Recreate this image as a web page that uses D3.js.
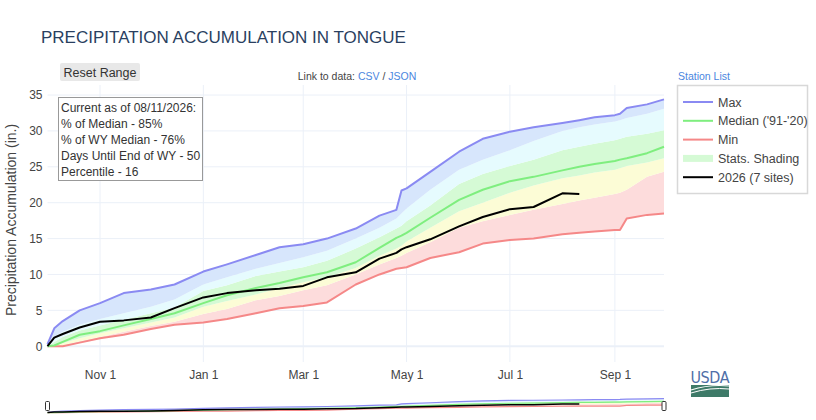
<!DOCTYPE html>
<html>
<head>
<meta charset="utf-8">
<script src="https://cdn.jsdelivr.net/npm/d3@7"></script>
<style>
  body { margin: 0; background: #fff; }
  svg { font-family: 'Liberation Sans', Arial, sans-serif; }
</style>
</head>
<body>
<script>
// Water year dates the values were read at
const dates = [
  '2025-10-01', '2025-10-05', '2025-10-10', '2025-10-20', '2025-11-01', '2025-11-15',
  '2025-12-01', '2025-12-15', '2026-01-01', '2026-01-15', '2026-02-01', '2026-02-15',
  '2026-03-01', '2026-03-15', '2026-04-01', '2026-04-15', '2026-04-25', '2026-04-28',
  '2026-05-01', '2026-05-15', '2026-06-01', '2026-06-15', '2026-07-01', '2026-07-15',
  '2026-08-01', '2026-08-11', '2026-08-20', '2026-09-01', '2026-09-04', '2026-09-08',
  '2026-09-20', '2026-09-30'
]

const maxValues = [0.3, 2.5, 3.5, 5.0, 6.0, 7.4, 7.9, 8.6, 10.4, 11.4, 12.7, 13.8, 14.2, 15.0, 16.4, 18.2,
  19.0, 21.7, 22.0, 24.3, 27.1, 28.9, 29.9, 30.5, 31.1, 31.5, 31.9, 32.2, 32.4, 33.2, 33.7, 34.4]
const p90Values = [0.1, 1.3, 2.0, 3.0, 3.8, 4.6, 5.5, 6.5, 8.6, 9.6, 10.8, 11.6, 12.4, 13.3, 15.0, 16.5,
  17.8, 18.5, 19.2, 21.8, 24.6, 26.0, 27.3, 28.6, 30.0, 30.5, 30.9, 31.3, 31.5, 31.8, 32.4, 33.1]
const p70Values = [0, 0.6, 1.3, 2.2, 2.9, 3.7, 4.6, 5.4, 7.7, 8.5, 9.8, 10.4, 11.0, 11.9, 13.6, 15.2,
  16.4, 16.8, 17.4, 19.6, 22.6, 24.0, 25.1, 26.0, 27.3, 27.8, 28.2, 28.7, 28.9, 29.2, 29.6, 30.1]
const medianValues = [0, 0.1, 0.6, 1.6, 2.1, 2.9, 3.8, 4.6, 6.0, 7.1, 8.1, 8.8, 9.6, 10.3, 11.7, 13.7,
  15.1, 15.4, 15.8, 17.9, 20.4, 21.8, 23.0, 23.6, 24.5, 25.0, 25.4, 25.8, 26.0, 26.2, 26.9, 27.8]
const p30Values = [0, 0.1, 0.4, 1.1, 1.8, 2.5, 3.3, 4.0, 5.5, 6.3, 7.2, 8.1, 8.9, 9.6, 10.9, 12.6,
  13.6, 14.0, 14.6, 16.5, 18.8, 20.0, 21.4, 22.4, 23.4, 23.8, 24.2, 24.6, 24.8, 25.1, 25.6, 26.2]
const p10Values = [0, 0, 0.1, 0.7, 1.3, 2.0, 2.8, 3.4, 4.5, 5.2, 6.4, 7.0, 7.8, 8.5, 10.0, 11.4,
  12.3, 12.6, 13.0, 14.5, 16.5, 17.4, 18.3, 19.0, 19.8, 20.3, 20.7, 21.2, 21.4, 21.8, 23.6, 24.3]
const minValues = [0, 0, 0, 0.5, 1.1, 1.6, 2.4, 3.0, 3.3, 3.8, 4.6, 5.3, 5.6, 6.1, 8.6, 10.0,
  10.8, 10.9, 11.0, 12.3, 13.1, 14.3, 14.8, 15.0, 15.6, 15.8, 16.0, 16.2, 16.2, 17.8, 18.3, 18.5]
// 2026 ends at Aug 11
const currentValues = [0, 1.2, 1.7, 2.6, 3.4, 3.6, 4.0, 5.3, 6.8, 7.4, 7.8, 8.0, 8.4, 9.6, 10.3, 12.2,
  13.0, 13.5, 13.8, 14.9, 16.7, 18.0, 19.1, 19.4, 21.3, 21.2, null, null, null, null, null, null]

const yTicks = [0, 5, 10, 15, 20, 25, 30, 35]
const xTickDates = ['2025-11-01', '2026-01-01', '2026-03-01', '2026-05-01', '2026-07-01', '2026-09-01']

const infoLines = [
  'Current as of 08/11/2026:',
  '% of Median - 85%',
  '% of WY Median - 76%',
  'Days Until End of WY - 50',
  'Percentile - 16'
]

const parse = d3.timeParse('%Y-%m-%d')
const rows = dates.map((d, i) => ({
  date: parse(d),
  max: maxValues[i], p90: p90Values[i], p70: p70Values[i], median: medianValues[i],
  p30: p30Values[i], p10: p10Values[i], min: minValues[i], current: currentValues[i]
}))

const width = 816
const height = 420

const colors = {
  max: '#8a8af2', median: '#7fee7f', min: '#f58888', current: '#000',
  bandBlue: '#d7e6fc', bandCyan: '#e6fbfe', bandGreen: '#d5fad5', bandYellow: '#fcfcd6', bandPink: '#fddcdc'
}

const bands = [
  { lo: 'min', hi: 'p10', fill: colors.bandPink },
  { lo: 'p10', hi: 'p30', fill: colors.bandYellow },
  { lo: 'p30', hi: 'p70', fill: colors.bandGreen },
  { lo: 'p70', hi: 'p90', fill: colors.bandCyan },
  { lo: 'p90', hi: 'max', fill: colors.bandBlue }
]

const svg = d3.select('body').append('svg')
  .attr('width', width)
  .attr('height', height)

const x = d3.scaleTime()
  .domain([parse('2025-10-01'), parse('2026-09-30')])
  .range([47.5, 664])

const y = d3.scaleLinear()
  .domain([-2.2, 36.4])
  .range([362, 85])

// Title
svg.append('text')
  .attr('x', 41).attr('y', 43)
  .attr('font-size', 17)
  .attr('fill', '#2a3f5f')
  .text('PRECIPITATION ACCUMULATION IN TONGUE')

// Reset Range button
svg.append('rect')
  .attr('x', 60).attr('y', 63).attr('width', 80).attr('height', 18)
  .attr('rx', 2)
  .attr('fill', '#e8e8e8')
svg.append('text')
  .attr('x', 100).attr('y', 76.5)
  .attr('text-anchor', 'middle')
  .attr('font-size', 12.5)
  .attr('fill', '#333')
  .text('Reset Range')

// Link to data
const link = svg.append('text')
  .attr('x', 357).attr('y', 80)
  .attr('text-anchor', 'middle')
  .attr('font-size', 10.5)
  .attr('fill', '#444')
link.append('tspan').text('Link to data: ')
link.append('tspan').attr('fill', '#4a86e0').text('CSV')
link.append('tspan').text(' / ')
link.append('tspan').attr('fill', '#4a86e0').text('JSON')

svg.append('text')
  .attr('x', 678).attr('y', 80)
  .attr('font-size', 10.5)
  .attr('fill', '#4a86e0')
  .text('Station List')

// Grid
const grid = svg.append('g')
grid.selectAll('.vgrid')
  .data(xTickDates.map(parse))
  .enter()
  .append('line')
  .attr('x1', (d) => x(d)).attr('x2', (d) => x(d))
  .attr('y1', 85).attr('y2', 362)
  .attr('stroke', '#ebf0f8')
  .attr('stroke-width', 1)
grid.selectAll('.hgrid')
  .data(yTicks)
  .enter()
  .append('line')
  .attr('x1', x.range()[0]).attr('x2', x.range()[1])
  .attr('y1', (d) => y(d)).attr('y2', (d) => y(d))
  .attr('stroke', '#ebf0f8')
  .attr('stroke-width', (d) => (d === 0 ? 2 : 1))

// Percentile shading
const plot = svg.append('g')
bands.forEach((b) => {
  plot.append('path')
    .datum(rows)
    .attr('fill', b.fill)
    .attr('d', d3.area()
      .x((d) => x(d.date))
      .y0((d) => y(d[b.lo]))
      .y1((d) => y(d[b.hi])))
})

const lineFor = (key, scaleY) => d3.line()
  .defined((d) => d[key] !== null)
  .x((d) => x(d.date))
  .y((d) => scaleY(d[key]))

const series = [
  { key: 'max', color: colors.max, w: 2 },
  { key: 'min', color: colors.min, w: 2 },
  { key: 'median', color: colors.median, w: 2 },
  { key: 'current', color: colors.current, w: 2 }
]

series.forEach((s) => {
  plot.append('path')
    .datum(rows)
    .attr('fill', 'none')
    .attr('stroke', s.color)
    .attr('stroke-width', s.w)
    .attr('stroke-linejoin', 'round')
    .attr('d', lineFor(s.key, y))
})

// Axes
const yAxis = svg.append('g')
  .attr('transform', 'translate(47.5,0)')
  .call(d3.axisLeft(y).tickValues(yTicks).tickSize(0).tickPadding(5))
yAxis.select('.domain').remove()
yAxis.selectAll('text')
  .attr('font-family', 'Liberation Sans, Arial, sans-serif')
  .attr('font-size', 12)
  .attr('fill', '#444')

const xAxis = svg.append('g')
  .attr('transform', 'translate(0,362)')
  .call(d3.axisBottom(x)
    .tickValues(xTickDates.map(parse))
    .tickFormat(d3.timeFormat('%b %-d'))
    .tickSize(0)
    .tickPadding(8))
xAxis.select('.domain').remove()
xAxis.selectAll('text')
  .attr('font-family', 'Liberation Sans, Arial, sans-serif')
  .attr('font-size', 12)
  .attr('fill', '#444')

svg.append('text')
  .attr('transform', 'translate(16,220) rotate(-90)')
  .attr('text-anchor', 'middle')
  .attr('font-size', 14)
  .attr('fill', '#444')
  .text('Precipitation Accumulation (in.)')

// Info annotation
const info = svg.append('g')
info.append('rect')
  .attr('x', 58.5).attr('y', 97.5).attr('width', 144).attr('height', 83)
  .attr('fill', '#fff')
  .attr('stroke', '#999')
  .attr('stroke-width', 1)
info.selectAll('text')
  .data(infoLines)
  .enter()
  .append('text')
  .attr('x', 61)
  .attr('y', (d, i) => 112 + i * 16)
  .attr('font-size', 12)
  .attr('fill', '#333')
  .text((d) => d)

// Legend
const legendItems = [
  { label: 'Max', color: colors.max, type: 'line' },
  { label: "Median ('91-'20)", color: colors.median, type: 'line' },
  { label: 'Min', color: colors.min, type: 'line' },
  { label: 'Stats. Shading', color: colors.bandGreen, type: 'band' },
  { label: '2026 (7 sites)', color: colors.current, type: 'line' }
]
const legend = svg.append('g').attr('transform', 'translate(677,85)')
legend.append('rect')
  .attr('x', 0.5).attr('y', 0.5).attr('width', 130).attr('height', 108)
  .attr('fill', '#fff')
  .attr('stroke', '#d8d8d8')
  .attr('stroke-width', 1.5)
const li = legend.selectAll('.item')
  .data(legendItems)
  .enter()
  .append('g')
  .attr('transform', (d, i) => `translate(0,${17 + i * 18.8})`)
li.append('line')
  .attr('x1', 6).attr('x2', 36)
  .attr('stroke', (d) => d.color)
  .attr('stroke-width', (d) => (d.type === 'band' ? 7 : 2))
li.append('text')
  .attr('x', 41).attr('y', 4.5)
  .attr('font-size', 12.5)
  .attr('fill', '#444')
  .text((d) => d.label)

// Range slider with mini traces
const ys = d3.scaleLinear().domain([-1, 36]).range([413, 398])
const slider = svg.append('g')
bands.forEach((b) => {
  slider.append('path')
    .datum(rows)
    .attr('fill', b.fill)
    .attr('d', d3.area()
      .x((d) => x(d.date))
      .y0((d) => ys(d[b.lo]))
      .y1((d) => ys(d[b.hi])))
})
series.forEach((s) => {
  slider.append('path')
    .datum(rows)
    .attr('fill', 'none')
    .attr('stroke', s.color)
    .attr('stroke-width', s.key === 'current' ? 1.5 : 1.2)
    .attr('d', lineFor(s.key, ys))
})
x.range().forEach((px) => {
  slider.append('rect')
    .attr('x', px - 2).attr('y', 401.5).attr('width', 4).attr('height', 9)
    .attr('rx', 1)
    .attr('fill', '#fff')
    .attr('stroke', '#333')
    .attr('stroke-width', 1)
})

// USDA mark
const usda = svg.append('g').attr('transform', 'translate(690,369)')
usda.append('text')
  .attr('x', 20).attr('y', 14)
  .attr('text-anchor', 'middle')
  .attr('font-size', 16)
  .attr('font-family', 'Liberation Sans Narrow, DejaVu Sans Condensed, sans-serif')
  .attr('fill', '#4f6fa8')
  .attr('textLength', 39)
  .text('USDA')
usda.append('rect')
  .attr('x', 1).attr('y', 16).attr('width', 38).attr('height', 12)
  .attr('fill', '#3e7a68')
usda.append('path')
  .attr('d', 'M1,21 Q20,15 39,17')
  .attr('fill', 'none').attr('stroke', '#fff').attr('stroke-width', 1.2)
usda.append('path')
  .attr('d', 'M1,24 Q20,18 39,20')
  .attr('fill', 'none').attr('stroke', '#fff').attr('stroke-width', 1)
</script>
</body>
</html>
